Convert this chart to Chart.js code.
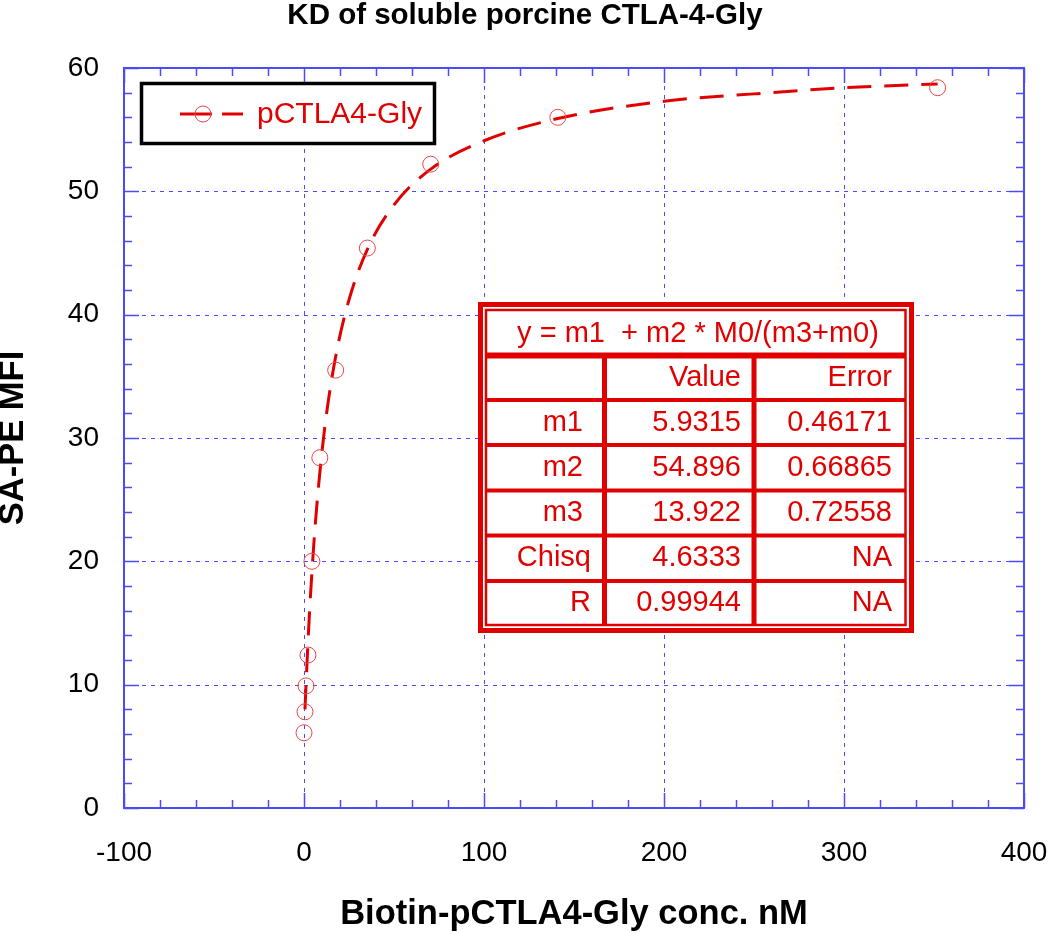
<!DOCTYPE html>
<html>
<head>
<meta charset="utf-8">
<title>KD of soluble porcine CTLA-4-Gly</title>
<script src="https://cdn.jsdelivr.net/npm/chart.js@4.4.0/dist/chart.umd.min.js"></script>
<style>
  html, body { margin: 0; padding: 0; background: #fff; }
  canvas { display: block; }
</style>
</head>
<body>
<canvas id="kdChart" width="1050" height="933"></canvas>
<script>
// measured points: biotin-pCTLA4-Gly (nM) vs SA-PE MFI
const concNM = [0, 0.55, 1.1, 2.2, 4.4, 8.8, 17.6, 35.2, 70.4, 141, 352];
const mfi = [6.1, 7.8, 9.9, 12.4, 20.0, 28.4, 35.5, 45.4, 52.2, 56.0, 58.4];

// dashed fit line
const fitX = [0.55, 1.1, 2.2, 3, 4.4, 6, 8.8, 12, 17.6, 25, 35.2, 50, 70.4, 100, 141, 200, 250, 300, 352];
const fitY = [8.0, 9.9, 13.4, 15.7, 19.1, 22.5, 27.2, 31.4, 36.6, 41.2, 45.3, 48.9, 51.8, 54.1, 55.9, 57.3, 57.9, 58.4, 58.7];

const xTicks = [-100, 0, 100, 200, 300, 400];
const yTicks = [0, 10, 20, 30, 40, 50, 60];

const seriesName = 'pCTLA4-Gly';
const fitTitle = 'y = m1  + m2 * M0/(m3+m0)';
const fitHead = ['', 'Value', 'Error'];
const fitNames = ['m1 ', 'm2 ', 'm3 ', 'Chisq', 'R'];
const fitValues = ['5.9315', '54.896', '13.922', '4.6333', '0.99944'];
const fitErrors = ['0.46171', '0.66865', '0.72558', 'NA', 'NA'];

const FONT = '"Liberation Sans", Arial, sans-serif';
const RED = 'rgb(225,0,0)';
const MARK = 'rgb(235,70,70)';
const BLUE = 'rgb(75,75,245)';

function seg(ctx, x1, y1, x2, y2) {
  ctx.beginPath(); ctx.moveTo(x1, y1); ctx.lineTo(x2, y2); ctx.stroke();
}

const framePlugin = {
  id: 'frame',
  beforeDatasetsDraw(chart) {
    const {ctx, chartArea: a, scales: {x, y}} = chart;
    ctx.save();
    // dotted grid on inner major ticks
    ctx.strokeStyle = BLUE;
    ctx.lineWidth = 1;
    ctx.setLineDash([4, 5]);
    xTicks.slice(1, -1).forEach(v => {
      const px = Math.round(x.getPixelForValue(v)) + 0.5;
      seg(ctx, px, a.top, px, a.bottom);
    });
    yTicks.slice(1, -1).forEach(v => {
      const py = Math.round(y.getPixelForValue(v)) + 0.5;
      seg(ctx, a.left, py, a.right, py);
    });
    ctx.setLineDash([]);
    // inward ticks on all four sides
    ctx.lineWidth = 1.5;
    for (let v = -100; v <= 400; v += 20) {
      const px = Math.round(x.getPixelForValue(v)) + 0.5;
      const len = v % 100 === 0 ? 15 : 8;
      seg(ctx, px, a.bottom, px, a.bottom - len);
      seg(ctx, px, a.top, px, a.top + len);
    }
    for (let v = 0; v <= 60; v += 2) {
      const py = Math.round(y.getPixelForValue(v)) + 0.5;
      const len = v % 10 === 0 ? 15 : 8;
      seg(ctx, a.left, py, a.left + len, py);
      seg(ctx, a.right, py, a.right - len, py);
    }
    ctx.lineWidth = 2;
    ctx.strokeRect(a.left, a.top, a.right - a.left, a.bottom - a.top);
    ctx.restore();
  },
  afterDatasetsDraw(chart) {
    const {ctx} = chart;
    ctx.save();

    // legend box
    ctx.fillStyle = '#fff';
    ctx.fillRect(141, 83, 294, 61);
    ctx.strokeStyle = '#000';
    ctx.lineWidth = 3.5;
    ctx.strokeRect(141.5, 83.5, 293, 60);
    ctx.strokeStyle = RED;
    ctx.lineWidth = 3;
    seg(ctx, 180, 114, 212, 114);
    seg(ctx, 222, 114, 243, 114);
    ctx.strokeStyle = MARK;
    ctx.lineWidth = 1;
    ctx.beginPath(); ctx.arc(203, 114, 8, 0, Math.PI * 2); ctx.stroke();
    ctx.fillStyle = RED;
    ctx.font = '30px ' + FONT;
    ctx.textBaseline = 'middle';
    ctx.textAlign = 'left';
    ctx.fillText(seriesName, 257, 115);

    // fit results table
    ctx.fillStyle = '#fff';
    ctx.fillRect(478, 302, 436, 331);
    ctx.strokeStyle = RED;
    ctx.lineWidth = 5;
    ctx.strokeRect(480.5, 304.5, 431, 326);
    ctx.lineWidth = 2.5;
    ctx.strokeRect(486, 310, 419.5, 315);
    ctx.lineWidth = 6;
    seg(ctx, 486, 355.5, 905.5, 355.5);
    ctx.lineWidth = 4;
    [400, 445, 490.5, 535.5, 581].forEach(py => seg(ctx, 486, py, 905.5, py));
    ctx.lineWidth = 5;
    seg(ctx, 604.5, 355, 604.5, 625);
    seg(ctx, 754, 355, 754, 625);

    ctx.fillStyle = RED;
    ctx.font = '29px ' + FONT;
    ctx.textAlign = 'center';
    ctx.fillText(fitTitle, 698, 334);
    ctx.textAlign = 'right';
    const rowY = [423, 468, 513, 558, 603];
    ctx.fillText(fitHead[1], 741, 378);
    ctx.fillText(fitHead[2], 892, 378);
    fitNames.forEach((n, i) => {
      ctx.fillText(n, 591, rowY[i]);
      ctx.fillText(fitValues[i], 741, rowY[i]);
      ctx.fillText(fitErrors[i], 892, rowY[i]);
    });
    ctx.restore();
  }
};

new Chart(document.getElementById('kdChart'), {
  type: 'scatter',
  data: {
    datasets: [
      {
        label: seriesName,
        data: concNM.map((c, i) => ({x: c, y: mfi[i]})),
        showLine: false,
        pointStyle: 'circle',
        pointRadius: 8,
        pointBorderWidth: 1,
        pointBorderColor: MARK,
        pointBackgroundColor: 'rgba(0,0,0,0)'
      },
      {
        label: 'fit',
        data: fitX.map((c, i) => ({x: c, y: fitY[i]})),
        showLine: true,
        borderColor: RED,
        borderWidth: 3,
        borderDash: [24, 13],
        cubicInterpolationMode: 'monotone',
        pointRadius: 0
      }
    ]
  },
  options: {
    responsive: false,
    animation: false,
    events: [],
    layout: {padding: 0},
    plugins: {
      legend: {display: false},
      tooltip: {enabled: false},
      title: {
        display: true,
        text: 'KD of soluble porcine CTLA-4-Gly',
        color: '#000',
        font: {family: FONT, size: 29.5, weight: 'bold', lineHeight: 1.05},
        padding: {top: 0, bottom: 37}
      }
    },
    scales: {
      x: {
        type: 'linear',
        min: -100,
        max: 400,
        afterBuildTicks: s => { s.ticks = xTicks.map(v => ({value: v})); },
        afterFit: s => { s.height = 125; s.paddingLeft = 0; s.paddingRight = 0; },
        grid: {display: false, drawTicks: false},
        border: {display: false},
        ticks: {color: '#000', font: {family: FONT, size: 28}, padding: 28, maxRotation: 0, autoSkip: false},
        title: {
          display: true,
          text: 'Biotin-pCTLA4-Gly conc. nM',
          color: '#000',
          font: {family: FONT, size: 34.5, weight: 'bold', lineHeight: 1.1},
          padding: 0
        }
      },
      y: {
        type: 'linear',
        min: 0,
        max: 60,
        afterBuildTicks: s => { s.ticks = yTicks.map(v => ({value: v})); },
        afterFit: s => { s.width = 124; s.paddingTop = 0; s.paddingBottom = 0; },
        grid: {display: false, drawTicks: false},
        border: {display: false},
        ticks: {color: '#000', font: {family: FONT, size: 28}, padding: 25, autoSkip: false},
        title: {
          display: true,
          text: 'SA-PE MFI',
          color: '#000',
          font: {family: FONT, size: 34.5, weight: 'bold', lineHeight: 0.8},
          padding: 0
        }
      },
      yRight: {
        type: 'linear',
        position: 'right',
        min: 0,
        max: 60,
        afterFit: s => { s.width = 26; s.paddingTop = 0; s.paddingBottom = 0; },
        grid: {display: false, drawTicks: false},
        border: {display: false},
        ticks: {display: false}
      }
    }
  },
  plugins: [framePlugin]
});
</script>
</body>
</html>
